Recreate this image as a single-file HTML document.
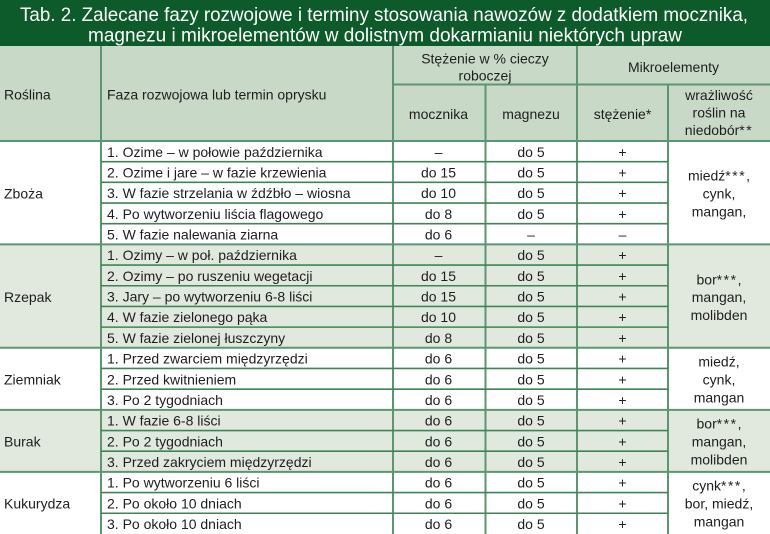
<!DOCTYPE html>
<html><head><meta charset="utf-8"><style>
html,body{margin:0;padding:0;background:#fff;}
svg{display:block;}
text{font-family:"Liberation Sans",Arial,sans-serif;fill:#1e1e1e;font-size:14px;}
.t{fill:#ffffff;font-size:19.5px;}
.c{text-anchor:middle;}
.a{letter-spacing:1.5px;}
</style></head><body>
<svg width="770" height="534" viewBox="0 0 770 534" xmlns="http://www.w3.org/2000/svg">
<!-- title bar -->
<rect x="0" y="0" width="770" height="46" fill="#0d5a2a"/>
<text class="t" x="20" y="21" textLength="728" lengthAdjust="spacingAndGlyphs">Tab. 2. Zalecane fazy rozwojowe i terminy stosowania nawozów z dodatkiem mocznika,</text>
<text class="t" x="88" y="41.5" textLength="594" lengthAdjust="spacingAndGlyphs">magnezu i mikroelementów w dolistnym dokarmianiu niektórych upraw</text>
<!-- header bg -->
<rect x="0" y="46" width="770" height="95" fill="#c9d9c7"/>
<!-- light group backgrounds -->
<rect x="0" y="244.4" width="770" height="103.4" fill="#e1e9df"/>
<rect x="0" y="409.84" width="770" height="62.04" fill="#e1e9df"/>

<!-- header text -->
<text x="4" y="99.5">Roślina</text>
<text x="107" y="99.5">Faza rozwojowa lub termin oprysku</text>
<text class="c" x="485" y="63.5">Stężenie w % cieczy</text>
<text class="c" x="485" y="80.5">roboczej</text>
<text class="c" x="673.5" y="72">Mikroelementy</text>
<text class="c" x="438.5" y="119">mocznika</text>
<text class="c" x="531" y="119">magnezu</text>
<text class="c" x="622.5" y="119">stężenie*</text>
<text class="c" x="719" y="100">wrażliwość</text>
<text class="c" x="719" y="117.5">roślin na</text>
<text class="c" x="719" y="135">niedobór<tspan class="a">**</tspan></text>

<!-- lines -->
<g stroke="#5b9670" stroke-width="2" fill="none">
<line x1="392" y1="84.5" x2="770" y2="84.5"/>
<line x1="0" y1="141" x2="770" y2="141"/>
<line x1="0" y1="244.4" x2="770" y2="244.4"/>
<line x1="0" y1="347.8" x2="770" y2="347.8"/>
<line x1="0" y1="409.84" x2="770" y2="409.84"/>
<line x1="0" y1="471.88" x2="770" y2="471.88"/>
<line x1="101" y1="46" x2="101" y2="534"/>
<line x1="393" y1="46" x2="393" y2="534"/>
<line x1="485.5" y1="84" x2="485.5" y2="534"/>
<line x1="577" y1="46" x2="577" y2="534"/>
<line x1="668" y1="84" x2="668" y2="534"/>
</g>
<g stroke="#3f8455" stroke-width="1.6" fill="none">
<line x1="101" y1="161.68" x2="668" y2="161.68"/>
<line x1="101" y1="182.36" x2="668" y2="182.36"/>
<line x1="101" y1="203.04" x2="668" y2="203.04"/>
<line x1="101" y1="223.72" x2="668" y2="223.72"/>
<line x1="101" y1="265.08" x2="668" y2="265.08"/>
<line x1="101" y1="285.76" x2="668" y2="285.76"/>
<line x1="101" y1="306.44" x2="668" y2="306.44"/>
<line x1="101" y1="327.12" x2="668" y2="327.12"/>
<line x1="101" y1="368.48" x2="668" y2="368.48"/>
<line x1="101" y1="389.16" x2="668" y2="389.16"/>
<line x1="101" y1="430.52" x2="668" y2="430.52"/>
<line x1="101" y1="451.2" x2="668" y2="451.2"/>
<line x1="101" y1="492.56" x2="668" y2="492.56"/>
<line x1="101" y1="513.24" x2="668" y2="513.24"/>
</g>

<!-- group names -->
<text x="4" y="198.5">Zboża</text>
<text x="4" y="301.9">Rzepak</text>
<text x="4" y="384.6">Ziemniak</text>
<text x="4" y="446.7">Burak</text>
<text x="4" y="508.7">Kukurydza</text>

<!-- right column -->
<text class="c" x="719" y="180.5">miedź<tspan class="a">***</tspan>,</text>
<text class="c" x="719" y="198.5">cynk,</text>
<text class="c" x="719" y="216.5">mangan,</text>
<text class="c" x="719" y="284.3">bor<tspan class="a">***</tspan>,</text>
<text class="c" x="719" y="302">mangan,</text>
<text class="c" x="719" y="319.8">molibden</text>
<text class="c" x="719" y="366.6">miedź,</text>
<text class="c" x="719" y="384.6">cynk,</text>
<text class="c" x="719" y="402.6">mangan</text>
<text class="c" x="719" y="428.7">bor<tspan class="a">***</tspan>,</text>
<text class="c" x="719" y="446.7">mangan,</text>
<text class="c" x="719" y="464.7">molibden</text>
<text class="c" x="719" y="490.3">cynk<tspan class="a">***</tspan>,</text>
<text class="c" x="719" y="508.3">bor, miedź,</text>
<text class="c" x="719" y="526.3">mangan</text>

<!-- rows -->
<g>
<text x="107" y="156.8">1. Ozime – w połowie października</text>
<text class="c" x="438.5" y="156.8">–</text><text class="c" x="531" y="156.8">do 5</text><text class="c" x="622.5" y="156.8">+</text>
<text x="107" y="177.5">2. Ozime i jare – w fazie krzewienia</text>
<text class="c" x="438.5" y="177.5">do 15</text><text class="c" x="531" y="177.5">do 5</text><text class="c" x="622.5" y="177.5">+</text>
<text x="107" y="198.2">3. W fazie strzelania w źdźbło – wiosna</text>
<text class="c" x="438.5" y="198.2">do 10</text><text class="c" x="531" y="198.2">do 5</text><text class="c" x="622.5" y="198.2">+</text>
<text x="107" y="218.8">4. Po wytworzeniu liścia flagowego</text>
<text class="c" x="438.5" y="218.8">do 8</text><text class="c" x="531" y="218.8">do 5</text><text class="c" x="622.5" y="218.8">+</text>
<text x="107" y="239.5">5. W fazie nalewania ziarna</text>
<text class="c" x="438.5" y="239.5">do 6</text><text class="c" x="531" y="239.5">–</text><text class="c" x="622.5" y="239.5">–</text>

<text x="107" y="260.2">1. Ozimy – w poł. października</text>
<text class="c" x="438.5" y="260.2">–</text><text class="c" x="531" y="260.2">do 5</text><text class="c" x="622.5" y="260.2">+</text>
<text x="107" y="280.9">2. Ozimy – po ruszeniu wegetacji</text>
<text class="c" x="438.5" y="280.9">do 15</text><text class="c" x="531" y="280.9">do 5</text><text class="c" x="622.5" y="280.9">+</text>
<text x="107" y="301.6">3. Jary – po wytworzeniu 6-8 liści</text>
<text class="c" x="438.5" y="301.6">do 15</text><text class="c" x="531" y="301.6">do 5</text><text class="c" x="622.5" y="301.6">+</text>
<text x="107" y="322.2">4. W fazie zielonego pąka</text>
<text class="c" x="438.5" y="322.2">do 10</text><text class="c" x="531" y="322.2">do 5</text><text class="c" x="622.5" y="322.2">+</text>
<text x="107" y="342.9">5. W fazie zielonej łuszczyny</text>
<text class="c" x="438.5" y="342.9">do 8</text><text class="c" x="531" y="342.9">do 5</text><text class="c" x="622.5" y="342.9">+</text>

<text x="107" y="363.6">1. Przed zwarciem międzyrzędzi</text>
<text class="c" x="438.5" y="363.6">do 6</text><text class="c" x="531" y="363.6">do 5</text><text class="c" x="622.5" y="363.6">+</text>
<text x="107" y="384.3">2. Przed kwitnieniem</text>
<text class="c" x="438.5" y="384.3">do 6</text><text class="c" x="531" y="384.3">do 5</text><text class="c" x="622.5" y="384.3">+</text>
<text x="107" y="405">3. Po 2 tygodniach</text>
<text class="c" x="438.5" y="405">do 6</text><text class="c" x="531" y="405">do 5</text><text class="c" x="622.5" y="405">+</text>

<text x="107" y="425.6">1. W fazie 6-8 liści</text>
<text class="c" x="438.5" y="425.6">do 6</text><text class="c" x="531" y="425.6">do 5</text><text class="c" x="622.5" y="425.6">+</text>
<text x="107" y="446.3">2. Po 2 tygodniach</text>
<text class="c" x="438.5" y="446.3">do 6</text><text class="c" x="531" y="446.3">do 5</text><text class="c" x="622.5" y="446.3">+</text>
<text x="107" y="467">3. Przed zakryciem międzyrzędzi</text>
<text class="c" x="438.5" y="467">do 6</text><text class="c" x="531" y="467">do 5</text><text class="c" x="622.5" y="467">+</text>

<text x="107" y="487.7">1. Po wytworzeniu 6 liści</text>
<text class="c" x="438.5" y="487.7">do 6</text><text class="c" x="531" y="487.7">do 5</text><text class="c" x="622.5" y="487.7">+</text>
<text x="107" y="508.4">2. Po około 10 dniach</text>
<text class="c" x="438.5" y="508.4">do 6</text><text class="c" x="531" y="508.4">do 5</text><text class="c" x="622.5" y="508.4">+</text>
<text x="107" y="529">3. Po około 10 dniach</text>
<text class="c" x="438.5" y="529">do 6</text><text class="c" x="531" y="529">do 5</text><text class="c" x="622.5" y="529">+</text>
</g>
</svg>
</body></html>
